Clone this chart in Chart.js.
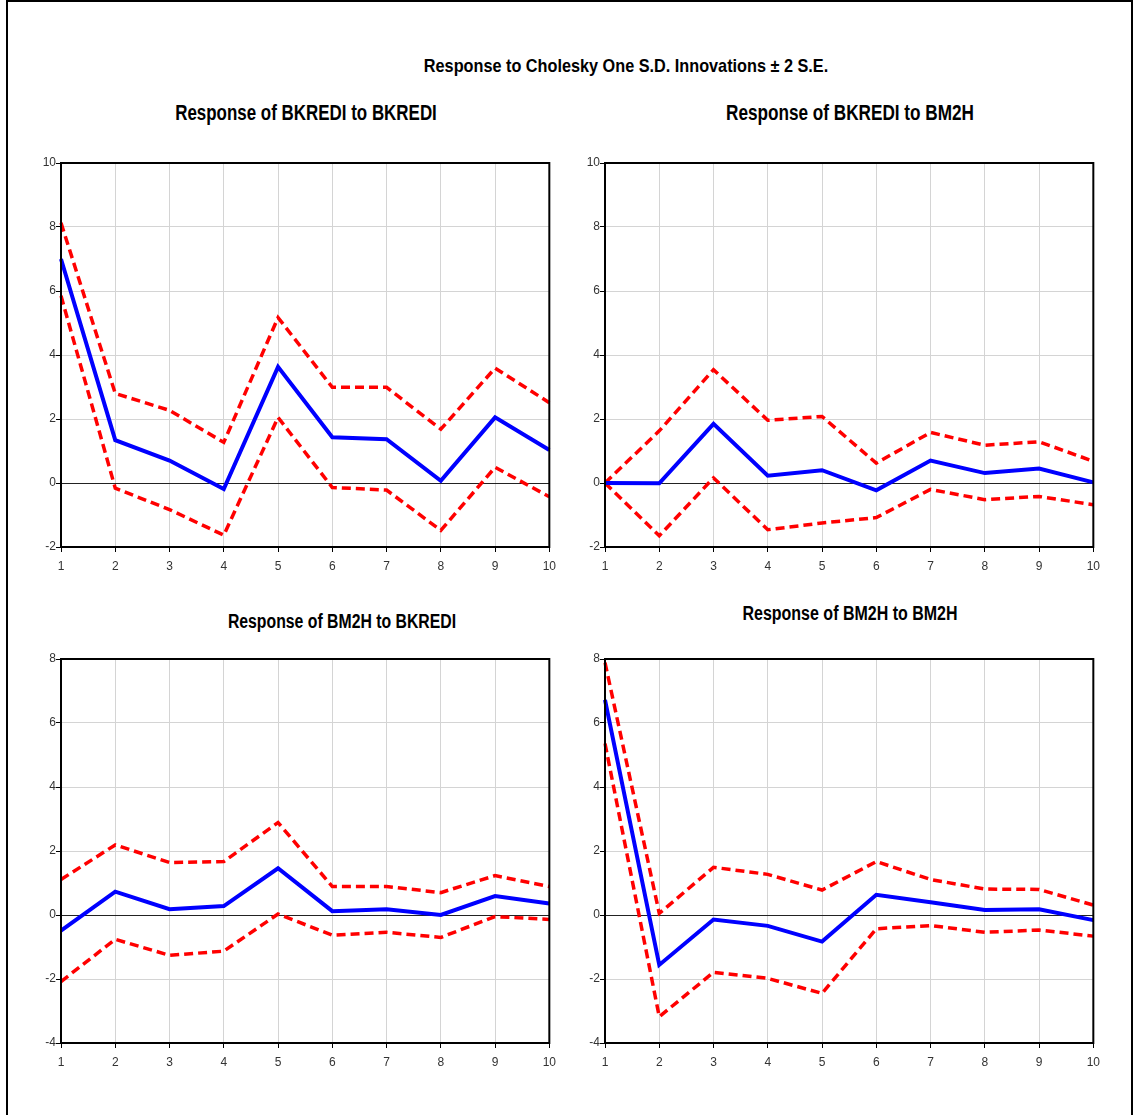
<!DOCTYPE html>
<html>
<head>
<meta charset="utf-8">
<script src="https://cdn.jsdelivr.net/npm/chart.js@4.4.1/dist/chart.umd.min.js"></script>
<style>
  html, body { margin: 0; padding: 0; background: #fff; overflow: hidden; }
  body { width: 1134px; height: 1115px; position: relative; }
  #frame { position: absolute; left: 6px; top: 0px; width: 1127px; height: 1140px; border: 2px solid #000; box-sizing: border-box; }
  .ttl { position: absolute; width: 600px; text-align: center; font-family: "Liberation Sans", Arial, sans-serif; font-weight: bold; color: #000; white-space: nowrap; transform-origin: 300px 50%; }
  canvas { position: absolute; }
</style>
</head>
<body>
<div id="frame"></div>
<div class="ttl" style="left:326px; top:55px; font-size:19px; line-height:22px; transform:scaleX(0.855);">Response to Cholesky One S.D. Innovations ± 2 S.E.</div>
<div class="ttl" style="left:6px; top:101px; font-size:22px; line-height:24px; transform:scaleX(0.77);">Response of BKREDI to BKREDI</div>
<div class="ttl" style="left:550px; top:101px; font-size:22px; line-height:24px; transform:scaleX(0.78);">Response of BKREDI to BM2H</div>
<div class="ttl" style="left:42px; top:610px; font-size:20px; line-height:22px; transform:scaleX(0.79);">Response of BM2H to BKREDI</div>
<div class="ttl" style="left:550px; top:602px; font-size:20px; line-height:22px; transform:scaleX(0.80);">Response of BM2H to BM2H</div>

<canvas id="c-kk" width="563" height="430" style="left:0px; top:150px;"></canvas>
<canvas id="c-km" width="563" height="430" style="left:544px; top:150px;"></canvas>
<canvas id="c-mk" width="563" height="430" style="left:0px; top:646px;"></canvas>
<canvas id="c-mm" width="563" height="430" style="left:544px; top:646px;"></canvas>

<script>
// periods after the shock
const periods = ['1', '2', '3', '4', '5', '6', '7', '8', '9', '10'];

// y ranges (top row / bottom row)
const topRange = [-2, 10];
const bottomRange = [-4, 8];

// BKREDI to BKREDI
const kkResp  = [7.0, 1.34, 0.70, -0.19, 3.63, 1.43, 1.37, 0.07, 2.05, 1.03];
const kkUpper = [8.13, 2.80, 2.27, 1.27, 5.17, 2.99, 2.99, 1.68, 3.59, 2.51];
const kkLower = [5.85, -0.16, -0.83, -1.63, 2.05, -0.14, -0.22, -1.48, 0.49, -0.43];

// BKREDI to BM2H
const kmResp  = [0, -0.01, 1.85, 0.23, 0.40, -0.23, 0.70, 0.31, 0.45, 0.02];
const kmUpper = [0, 1.63, 3.54, 1.96, 2.08, 0.62, 1.58, 1.18, 1.29, 0.68];
const kmLower = [0, -1.65, 0.16, -1.46, -1.25, -1.08, -0.20, -0.52, -0.42, -0.68];

// BM2H to BKREDI
const mkResp  = [-0.49, 0.73, 0.18, 0.28, 1.46, 0.12, 0.18, 0.0, 0.59, 0.36];
const mkUpper = [1.11, 2.19, 1.64, 1.67, 2.89, 0.89, 0.89, 0.70, 1.23, 0.89];
const mkLower = [-2.08, -0.76, -1.26, -1.13, 0.03, -0.63, -0.54, -0.70, -0.05, -0.14];

// BM2H to BM2H
const mmResp  = [6.72, -1.56, -0.14, -0.34, -0.83, 0.63, 0.40, 0.16, 0.18, -0.16];
const mmUpper = [7.89, 0.05, 1.49, 1.27, 0.78, 1.67, 1.11, 0.81, 0.80, 0.31];
const mmLower = [5.36, -3.18, -1.79, -1.98, -2.45, -0.43, -0.33, -0.54, -0.47, -0.66];

const tickFont = { family: '"Liberation Sans", Arial, sans-serif', size: 12 };

// black box round the plot area
const boxPlugin = {
    id: 'box',
    afterDraw(chart) {
        const ctx = chart.ctx;
        const a = chart.chartArea;
        ctx.save();
        ctx.strokeStyle = '#000';
        ctx.lineWidth = 2;
        ctx.strokeRect(a.left, a.top, a.right - a.left, a.bottom - a.top);
        ctx.restore();
    }
};

function makeChart(id, resp, upper, lower, range) {
    const band = (data) => ({
        data: data,
        borderColor: '#ff0000',
        borderWidth: 3.5,
        borderDash: [9, 5],
        pointRadius: 0,
        tension: 0
    });
    return new Chart(document.getElementById(id), {
        type: 'line',
        data: {
            labels: periods,
            datasets: [
                { data: resp, borderColor: '#0000ff', borderWidth: 4, pointRadius: 0, tension: 0 },
                band(upper),
                band(lower)
            ]
        },
        options: {
            responsive: false,
            animation: false,
            layout: { padding: { top: 13, right: 11, left: 0, bottom: 0 } },
            plugins: { legend: { display: false }, tooltip: { enabled: false } },
            scales: {
                x: {
                    offset: false,
                    border: { display: false },
                    grid: { color: '#d4d4d4', tickColor: '#000', tickLength: 5, lineWidth: 1 },
                    ticks: { color: '#333', font: tickFont, padding: 7, maxRotation: 0, autoSkip: false },
                    afterFit: (s) => { s.height = 33; }
                },
                y: {
                    min: range[0],
                    max: range[1],
                    border: { display: false },
                    grid: {
                        color: (c) => (c.tick && c.tick.value === 0) ? '#222' : '#d4d4d4',
                        tickColor: '#000',
                        tickLength: 5,
                        lineWidth: 1
                    },
                    ticks: { stepSize: 2, color: '#333', font: tickFont, padding: 0 },
                    afterFit: (s) => { s.width = 61; }
                }
            }
        },
        plugins: [boxPlugin]
    });
}

makeChart('c-kk', kkResp, kkUpper, kkLower, topRange);
makeChart('c-km', kmResp, kmUpper, kmLower, topRange);
makeChart('c-mk', mkResp, mkUpper, mkLower, bottomRange);
makeChart('c-mm', mmResp, mmUpper, mmLower, bottomRange);
</script>
</body>
</html>
